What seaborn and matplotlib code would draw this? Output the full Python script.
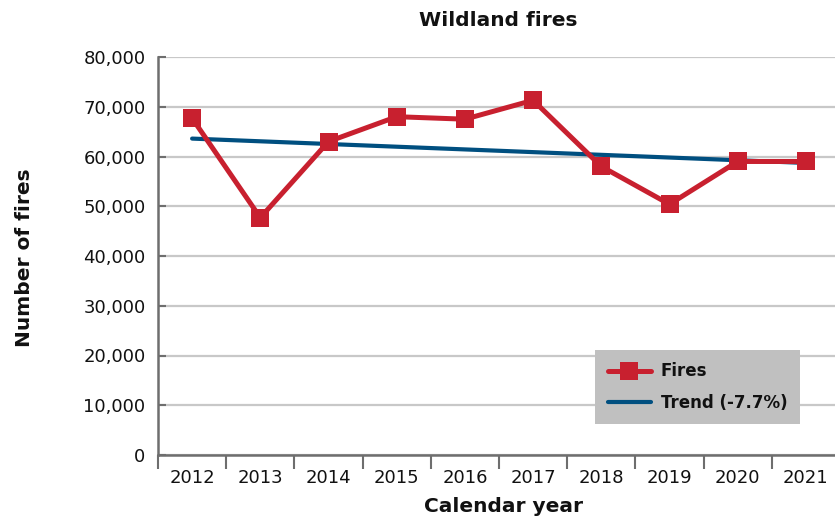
import matplotlib
matplotlib.use("Agg")
import matplotlib.pyplot as plt
from matplotlib.ticker import FuncFormatter, FixedLocator
import numpy as np
import pandas as pd
import seaborn as sns

# Wildland fire counts by calendar year
years = [2012, 2013, 2014, 2015, 2016, 2017, 2018, 2019, 2020, 2021]
fires = [67700, 47700, 63000, 68000, 67500, 71300, 58000, 50400, 59000, 59000]

# Linear trend over the period: starting level and total change in percent
trend_start = 63600
trend_change_pct = -7.7
trend_years = [years[0], years[-1]]
trend_values = [trend_start, trend_start * (1 + trend_change_pct / 100)]

y_ticks = [0, 10000, 20000, 30000, 40000, 50000, 60000, 70000, 80000]

RED = "#C8202F"
BLUE = "#004F80"
AXIS_GRAY = "#6E6E6E"
GRID_GRAY = "#C8C8C8"

sns.set_theme(style="white")
plt.rcParams["font.family"] = ["DejaVu Sans"]

df = pd.DataFrame({"year": years, "fires": fires})
trend_df = pd.DataFrame({"year": trend_years, "fires": trend_values})

fig = plt.figure(figsize=(8.35, 5.21), dpi=100)
W, H = 835, 521
ax = fig.add_axes([158 / W, 66 / H, 682 / W, 398 / H])

sns.lineplot(data=trend_df, x="year", y="fires", ax=ax, color=BLUE,
             linewidth=3.0, label=f"Trend ({trend_change_pct}%)",
             solid_capstyle="round", zorder=3)
sns.lineplot(data=df, x="year", y="fires", ax=ax, color=RED,
             linewidth=3.6, marker="s", markersize=12.5, markeredgewidth=0,
             markerfacecolor=RED, label="Fires", zorder=4)

ax.set_xlim(years[0] - 0.5, years[-1] + 0.5)
ax.set_ylim(0, 80000)

# y axis: inward ticks, comma formatted, light gridlines
ax.yaxis.set_major_locator(FixedLocator(y_ticks))
ax.yaxis.set_major_formatter(FuncFormatter(lambda v, p: f"{int(v):,}"))
ax.grid(axis="y", color=GRID_GRAY, linewidth=1.6, zorder=0)
ax.tick_params(axis="y", direction="in", length=6, width=1.5, color=AXIS_GRAY,
               labelsize=13, pad=9, labelcolor="#111111", left=True)

# x axis: year labels at category centres, tick marks between categories
ax.set_xticks(years)
ax.set_xticklabels([str(y) for y in years])
ax.set_xticks([y - 0.5 for y in years] + [years[-1] + 0.5], minor=True)
ax.tick_params(axis="x", which="major", length=0, labelsize=13, pad=10,
               labelcolor="#111111")
ax.tick_params(axis="x", which="minor", direction="out", length=10, width=1.5,
               color=AXIS_GRAY, bottom=True)

for side in ("top", "right"):
    ax.spines[side].set_visible(False)
for side in ("left", "bottom"):
    ax.spines[side].set_color(AXIS_GRAY)
    ax.spines[side].set_linewidth(1.8)
    ax.spines[side].set_zorder(5)

ax.set_xlabel("")
ax.set_ylabel("")

# Legend: fires first, then trend
handles, labels = ax.get_legend_handles_labels()
order = [labels.index("Fires"), labels.index(f"Trend ({trend_change_pct}%)")]
leg = ax.legend([handles[i] for i in order], [labels[i] for i in order],
                loc="upper left", bbox_to_anchor=(595 / W, 1 - 350 / H),
                bbox_transform=fig.transFigure, borderaxespad=0,
                frameon=True, fancybox=False, framealpha=1,
                facecolor="#C0C0C0", edgecolor="none",
                prop={"weight": "bold", "size": 12}, handlelength=2.6,
                handletextpad=0.6, labelspacing=0.8, borderpad=0.75)
leg.set_zorder(10)
for t in leg.get_texts():
    t.set_color("#111111")

fig.text(498 / W, 1 - 20 / H, "Wildland fires", ha="center", va="center",
         fontsize=14.5, fontweight="bold", color="#111111")
fig.text(25 / W, 1 - 258 / H, "Number of fires", ha="center", va="center",
         rotation=90, fontsize=14.5, fontweight="bold", color="#111111")
fig.text(503 / W, 1 - 507 / H, "Calendar year", ha="center", va="center",
         fontsize=14.5, fontweight="bold", color="#111111")

fig.savefig("out.png", dpi=100)
